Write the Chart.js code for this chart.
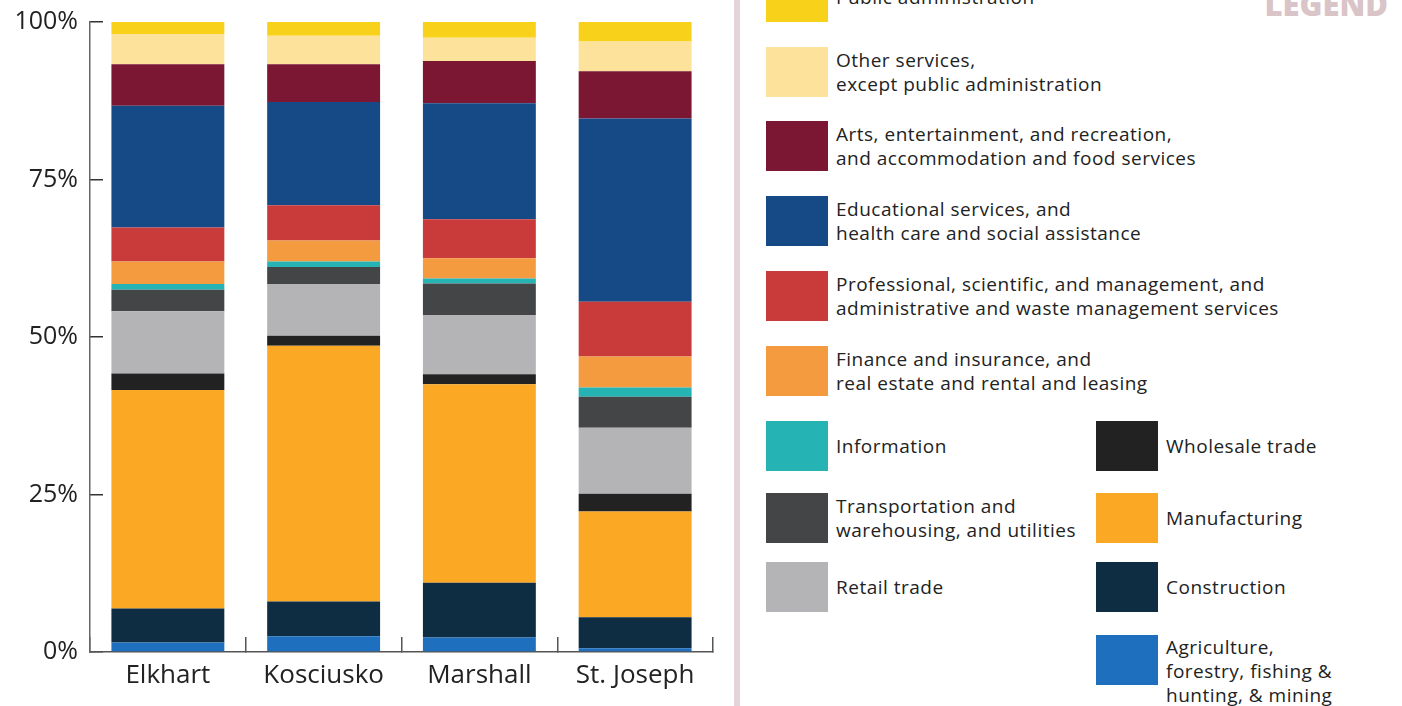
<!DOCTYPE html>
<html>
<head>
<meta charset="utf-8">
<script src="https://cdn.jsdelivr.net/npm/chart.js@4"></script>
<style>
  body { margin: 0; background: #fff; width: 1402px; height: 706px; overflow: hidden; position: relative; font-family: "Open Sans", sans-serif; }
  #chartBox { position: absolute; left: 0; top: 0; width: 730px; height: 706px; }
  #divider { position: absolute; left: 734px; top: 0; width: 6px; height: 706px; background: #e4d4d7; }
  #legendTitle { position: absolute; right: 14px; top: -12px; font: 800 31px "Open Sans", sans-serif; line-height: 32px; color: #d9c4c7; }
  .item { position: absolute; display: flex; }
  .swatch { width: 62px; height: 50px; flex: none; }
  .txt { margin-left: 8px; font-size: 19px; font-weight: 500; letter-spacing: 0.5px; line-height: 24px; color: #222; white-space: pre; }
</style>
</head>
<body>
<div id="chartBox"><canvas id="industry-chart"></canvas></div>
<div id="divider"></div>
<div id="legendTitle">LEGEND</div>
<div id="legend"></div>
<script>
const counties = ['Elkhart', 'Kosciusko', 'Marshall', 'St. Joseph'];
const yTicks = [0, 25, 50, 75, 100];

// share of jobs by industry, percent (stacked bottom to top)
const agriculture   = [1.5, 2.5, 2.3, 0.6];
const construction  = [5.4, 5.5, 8.7, 4.9];
const manufacturing = [34.7, 40.6, 31.5, 16.8];
const wholesale     = [2.6, 1.6, 1.6, 2.8];
const retail        = [9.9, 8.2, 9.4, 10.5];
const transport     = [3.4, 2.7, 5.0, 4.9];
const information   = [0.9, 0.9, 0.8, 1.5];
const finance       = [3.6, 3.3, 3.2, 4.9];
const professional  = [5.4, 5.6, 6.2, 8.7];
const education     = [19.3, 16.4, 18.4, 29.1];
const arts          = [6.6, 6.0, 6.7, 7.5];
const otherServices = [4.8, 4.5, 3.7, 4.7];
const publicAdmin   = [1.9, 2.2, 2.5, 3.1];

const series = [
  { key: 'agriculture', label: 'Agriculture,\nforestry, fishing &\nhunting, & mining', data: agriculture, color: '#1f6fbf' },
  { key: 'construction', label: 'Construction', data: construction, color: '#0f2d42' },
  { key: 'manufacturing', label: 'Manufacturing', data: manufacturing, color: '#fba924' },
  { key: 'wholesale', label: 'Wholesale trade', data: wholesale, color: '#222222' },
  { key: 'retail', label: 'Retail trade', data: retail, color: '#b4b4b6' },
  { key: 'transport', label: 'Transportation and\nwarehousing, and utilities', data: transport, color: '#444546' },
  { key: 'information', label: 'Information', data: information, color: '#25b3b3' },
  { key: 'finance', label: 'Finance and insurance, and\nreal estate and rental and leasing', data: finance, color: '#f49a3f' },
  { key: 'professional', label: 'Professional, scientific, and management, and\nadministrative and waste management services', data: professional, color: '#c93a3a' },
  { key: 'education', label: 'Educational services, and\nhealth care and social assistance', data: education, color: '#154a87' },
  { key: 'arts', label: 'Arts, entertainment, and recreation,\nand accommodation and food services', data: arts, color: '#7b1732' },
  { key: 'otherServices', label: 'Other services,\nexcept public administration', data: otherServices, color: '#fde29b' },
  { key: 'publicAdmin', label: 'Public administration', data: publicAdmin, color: '#f8d21a' }
];

// legend grid: two columns of swatches
const leftColumn = ['publicAdmin', 'otherServices', 'arts', 'education', 'professional', 'finance', 'information', 'transport', 'retail'];
const leftTops = [-28, 47, 121, 196, 271, 346, 421, 493, 562];
const rightColumn = ['wholesale', 'manufacturing', 'construction', 'agriculture'];
const rightTops = [421, 493, 562, 635];

function addLegendItem(key, left, top) {
  const s = series.find(d => d.key === key);
  const lines = s.label.split('\n').length;
  const item = document.createElement('div');
  item.className = 'item';
  item.style.left = left + 'px';
  item.style.top = top + 'px';
  const sw = document.createElement('div');
  sw.className = 'swatch';
  sw.style.background = s.color;
  const txt = document.createElement('div');
  txt.className = 'txt';
  txt.style.marginTop = Math.max(0, (50 - lines * 24) / 2) + 'px';
  txt.textContent = s.label;
  item.appendChild(sw);
  item.appendChild(txt);
  document.getElementById('legend').appendChild(item);
}
leftColumn.forEach((k, i) => addLegendItem(k, 766, leftTops[i]));
rightColumn.forEach((k, i) => addLegendItem(k, 1096, rightTops[i]));

new Chart(document.getElementById('industry-chart'), {
  type: 'bar',
  data: {
    labels: counties,
    datasets: series.map(s => ({
      label: s.label,
      data: s.data,
      backgroundColor: s.color,
      borderWidth: 0,
      barPercentage: 0.725,
      categoryPercentage: 1.0
    }))
  },
  options: {
    responsive: true,
    maintainAspectRatio: false,
    animation: false,
    layout: { padding: { top: 22, right: 17, left: 0, bottom: 0 } },
    plugins: { legend: { display: false }, tooltip: { enabled: false } },
    scales: {
      x: {
        stacked: true,
        grid: { offset: true, drawOnChartArea: false, tickLength: -15, color: '#555', lineWidth: 1.5 },
        border: { display: true, color: '#555', width: 1.5 },
        ticks: { color: '#222', padding: 23, font: { family: 'Open Sans', size: 26 } },
        afterFit: scale => { scale.height = 54; scale.paddingLeft = 0; scale.paddingRight = 0; }
      },
      y: {
        stacked: true,
        min: yTicks[0],
        max: yTicks[yTicks.length - 1],
        afterBuildTicks: scale => { scale.ticks = yTicks.map(v => ({ value: v })); },
        grid: { drawOnChartArea: false, tickLength: -13, color: '#333', lineWidth: 1.5 },
        border: { display: true, color: '#666', width: 1.5 },
        ticks: { color: '#222', padding: 25, font: { family: 'Open Sans', size: 25 }, callback: v => v + '%' },
        afterFit: scale => { scale.width = 90; scale.paddingTop = 0; scale.paddingBottom = 0; }
      }
    }
  }
});
</script>
</body>
</html>
